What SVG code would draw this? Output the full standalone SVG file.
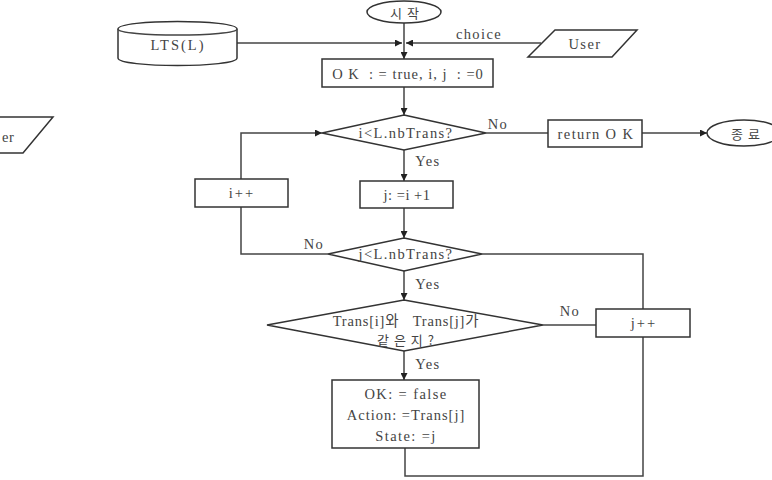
<svg xmlns="http://www.w3.org/2000/svg" width="772" height="480" viewBox="0 0 772 480">
<defs>
<style>
.s{fill:#fff;stroke:#333;stroke-width:1.5}
.c{fill:none;stroke:#444;stroke-width:1.5}
text{font-family:'Liberation Serif','DejaVu Serif','Noto Sans CJK KR',serif;font-size:14.5px;letter-spacing:1.4px;fill:#444;text-anchor:middle;dominant-baseline:central;white-space:pre}
.k{font-family:'Noto Sans CJK KR',sans-serif;font-size:13px;letter-spacing:1px}
</style>
<marker id="a" viewBox="0 0 10 10" refX="10" refY="5" markerWidth="7" markerHeight="7" orient="auto" markerUnits="userSpaceOnUse"><path d="M0,0L10,5L0,10z" fill="#222"/></marker>
</defs>
<rect width="772" height="480" fill="#fff"/>
<g id="connectors">
<path class="c" d="M404,23V59" marker-end="url(#a)"/>
<path class="c" d="M237,43H402" marker-end="url(#a)"/>
<path class="c" d="M541,43H406" marker-end="url(#a)"/>
<text x="479" y="34">choice</text>
<path class="c" d="M404,87V115" marker-end="url(#a)"/>
<path class="c" d="M486,133H548"/>
<text x="498" y="124">No</text>
<path class="c" d="M642,133H707" marker-end="url(#a)"/>
<path class="c" d="M404,150V181" marker-end="url(#a)"/>
<text x="428" y="161">Yes</text>
<path class="c" d="M241,179V133H322" marker-end="url(#a)"/>
<path class="c" d="M404,208V238" marker-end="url(#a)"/>
<path class="c" d="M328,254H241V207"/>
<text x="314" y="244">No</text>
<path class="c" d="M482,254H643V309"/>
<path class="c" d="M404,271V300" marker-end="url(#a)"/>
<text x="428" y="284">Yes</text>
<path class="c" d="M543,325H596"/>
<text x="570" y="311">No</text>
<path class="c" d="M404,351V380" marker-end="url(#a)"/>
<text x="428" y="364">Yes</text>
<path class="c" d="M405,448V476H643V337"/>
</g>
<g id="start"><ellipse class="s" cx="404" cy="12" rx="37" ry="11"/><text class="k" x="405" y="12">시 작</text></g>
<g id="lts"><path class="s" d="M118,29C118,19 237,19 237,29V58C237,68 118,68 118,58Z"/><path class="c" d="M118,29C118,37 237,37 237,29"/><text x="178" y="45" style="letter-spacing:2px">LTS(L)</text></g>
<g id="user"><path class="s" d="M555,30H637L612,57H528Z"/><text x="585" y="44">User</text></g>
<g id="user2"><path class="s" d="M-80,117H53L23,153H-110Z"/><text x="2" y="137" style="text-anchor:start;letter-spacing:0.5px">er</text></g>
<g id="init"><rect class="s" x="322" y="59" width="171" height="28"/><text x="408" y="74" style="letter-spacing:1px">O K  : = true, i, j  : =0</text></g>
<g id="cond1"><path class="s" d="M404,115L486,133L404,150L322,133Z"/><text x="406" y="133">i&lt;L.nbTrans?</text></g>
<g id="ret"><rect class="s" x="548" y="120" width="94" height="27"/><text x="596" y="134">return O K</text></g>
<g id="end"><ellipse class="s" cx="744" cy="133" rx="37" ry="13"/><text class="k" x="746" y="133">종 료</text></g>
<g id="inci"><rect class="s" x="195" y="179" width="93" height="28"/><text x="242" y="193" style="letter-spacing:2px">i++</text></g>
<g id="setj"><rect class="s" x="360" y="181" width="93" height="27"/><text x="407" y="195" style="letter-spacing:0.5px">j: =i +1</text></g>
<g id="cond2"><path class="s" d="M404,238L482,254L404,271L328,254Z"/><text x="406" y="254">j&lt;L.nbTrans?</text></g>
<g id="cond3"><path class="s" d="M404,300L543,325L404,351L267,325Z"/><text x="406" y="321" style="letter-spacing:0.8px">Trans[i]와   Trans[j]가</text><text class="k" x="406" y="339">같 은 지 ?</text></g>
<g id="incj"><rect class="s" x="596" y="309" width="94" height="28"/><text x="644" y="323" style="letter-spacing:2px">j++</text></g>
<g id="found"><rect class="s" x="332" y="380" width="147" height="68"/><text x="406" y="394">OK: = false</text><text x="406" y="415" style="letter-spacing:1px">Action: =Trans[j]</text><text x="406" y="436">State: =j</text></g>
</svg>
